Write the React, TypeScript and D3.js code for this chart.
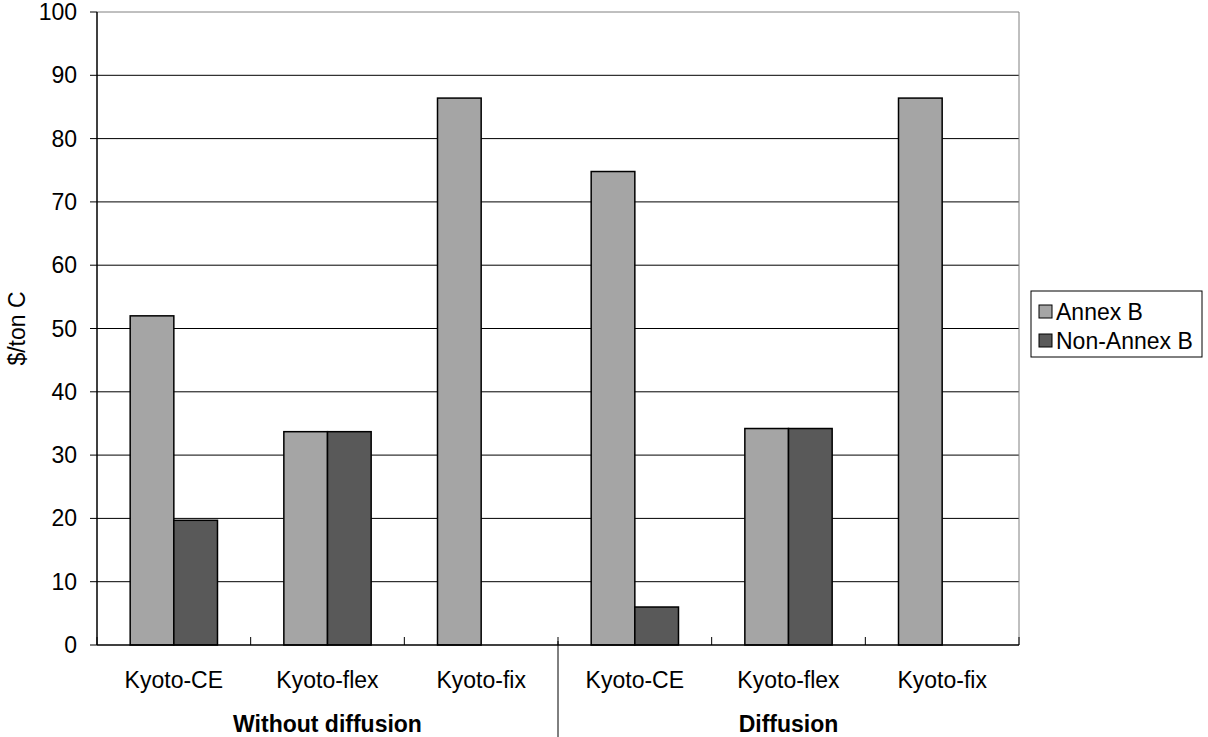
import React from "react";
import * as d3 from "d3";

const categories = ["Kyoto-CE", "Kyoto-flex", "Kyoto-fix", "Kyoto-CE", "Kyoto-flex", "Kyoto-fix"];
const groups = ["Without diffusion", "Diffusion"];
const seriesNames = ["Annex B", "Non-Annex B"];
const annexB = [52, 33.7, 86.4, 74.8, 34.2, 86.4];
const nonAnnexB = [19.7, 33.7, 0, 6, 34.2, 0];
const yTicks = [0, 10, 20, 30, 40, 50, 60, 70, 80, 90, 100];
const colors = ["#A5A5A5", "#595959"];

const W = 1208, H = 737;
const L = 97, R = 1019, T = 12, B = 645;
const FONT = "'Liberation Sans', Arial, sans-serif";

export default function App() {
  const series = [annexB, nonAnnexB];
  const idx = d3.range(categories.length);
  const x0 = d3.scaleBand<number>().domain(idx).range([L, R]).paddingInner(0).paddingOuter(0);
  const x1 = d3.scaleBand<number>().domain([0, 1]).range([0, x0.bandwidth()]).paddingInner(0).paddingOuter(0.76);
  const y = d3.scaleLinear().domain([0, 100]).range([B, T]);
  const fs = 23;

  return (
    <svg width={W} height={H} style={{ position: "absolute", left: 0, top: 0, background: "#fff" }} fontFamily={FONT}>
      <rect x={0} y={0} width={W} height={H} fill="#fff" />
      {/* gridlines */}
      {yTicks.filter((t) => t > 0 && t < 100).map((t) => (
        <line key={t} x1={L} x2={R} y1={y(t)} y2={y(t)} stroke="#000" strokeWidth={1} />
      ))}
      {/* plot border top & right */}
      <line x1={L} x2={R} y1={y(100)} y2={y(100)} stroke="#808080" strokeWidth={1} />
      <line x1={R} x2={R} y1={T} y2={B} stroke="#808080" strokeWidth={1} />
      {/* bars */}
      {series.map((vals, s) =>
        vals.map((v, i) =>
          v > 0 ? (
            <rect
              key={`${s}-${i}`}
              x={(x0(i) as number) + (x1(s) as number)}
              y={y(v)}
              width={x1.bandwidth()}
              height={B - y(v)}
              fill={colors[s]}
              stroke="#000"
              strokeWidth={1.5}
            />
          ) : null
        )
      )}
      {/* y axis */}
      <line x1={L} x2={L} y1={T} y2={B} stroke="#000" strokeWidth={1.5} />
      {yTicks.map((t) => (
        <g key={t}>
          <line x1={L - 7} x2={L} y1={y(t)} y2={y(t)} stroke="#000" strokeWidth={1} />
          <text x={L - 20} y={y(t)} dy="0.35em" textAnchor="end" fontSize={fs} fill="#000">
            {t}
          </text>
        </g>
      ))}
      {/* x axis */}
      <line x1={L} x2={R} y1={B} y2={B} stroke="#000" strokeWidth={1.5} />
      {d3.range(categories.length + 1).map((i) => {
        const xx = i < categories.length ? (x0(i) as number) : R;
        return <line key={i} x1={xx} x2={xx} y1={B - 8} y2={B} stroke="#000" strokeWidth={1} />;
      })}
      {categories.map((c, i) => (
        <text key={i} x={(x0(i) as number) + x0.bandwidth() / 2} y={B + 35} dy="0.35em" textAnchor="middle" fontSize={fs} fill="#000">
          {c}
        </text>
      ))}
      {/* group separator */}
      <line x1={x0(3) as number} x2={x0(3) as number} y1={B - 4} y2={H} stroke="#000" strokeWidth={1} />
      {groups.map((g, gi) => {
        const cx = ((x0(gi * 3) as number) + (gi === 0 ? (x0(3) as number) : R)) / 2;
        return (
          <text key={g} x={cx} y={B + 79} dy="0.35em" textAnchor="middle" fontSize={fs} fontWeight="bold" fill="#000">
            {g}
          </text>
        );
      })}
      {/* y title */}
      <text transform={`translate(17, ${(T + B) / 2}) rotate(-90)`} textAnchor="middle" dy="0.35em" fontSize={fs} fill="#000">
        $/ton C
      </text>
      {/* legend */}
      <rect x={1031} y={291} width={171} height={66} fill="#fff" stroke="#000" strokeWidth={1} />
      {seriesNames.map((n, i) => (
        <g key={n}>
          <rect x={1039} y={305 + i * 29} width={13} height={13} fill={colors[i]} stroke="#000" strokeWidth={1} />
          <text x={1056} y={311.5 + i * 29} dy="0.35em" fontSize={fs} fill="#000">
            {n}
          </text>
        </g>
      ))}
    </svg>
  );
}
